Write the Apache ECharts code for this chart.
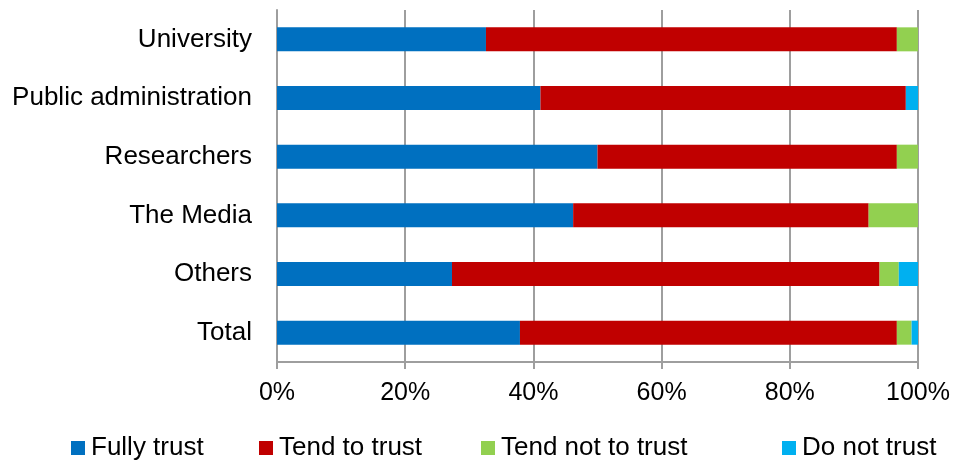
<!DOCTYPE html>
<html>
<head>
<meta charset="utf-8">
<script src="https://cdn.jsdelivr.net/npm/echarts@6/dist/echarts.min.js"></script>
<style>
  html, body { margin: 0; padding: 0; background: #fff; }
  #main { width: 956px; height: 461px; }
</style>
</head>
<body>
<div id="main"></div>
<script>
const categories = ['University', 'Public administration', 'Researchers', 'The Media', 'Others', 'Total'];
const fullyTrust = [32.6, 41.1, 50.0, 46.2, 27.3, 37.9];
const tendToTrust = [64.1, 57.0, 46.7, 46.1, 66.7, 58.8];
const tendNotToTrust = [3.3, 0, 3.3, 7.7, 3.0, 2.3];
const doNotTrust = [0, 1.9, 0, 0, 3.0, 1.0];
const tickLabels = ['0%', '20%', '40%', '60%', '80%', '100%'];

const seriesNames = ['Fully trust', 'Tend to trust', 'Tend not to trust', 'Do not trust'];
const seriesData = [fullyTrust, tendToTrust, tendNotToTrust, doNotTrust];
const colors = ['#0070C0', '#C00000', '#92D050', '#00B0F0'];
const legendLeft = [71, 259, 481, 782];

const gridColor = '#9e9e9e';
const font = 'Liberation Sans, Arial, sans-serif';

var chart = echarts.init(document.getElementById('main'));

var legends = [];
for (var i = 0; i < seriesNames.length; i++) {
  legends.push({
    data: [seriesNames[i]],
    left: legendLeft[i],
    top: 435,
    icon: 'rect',
    itemWidth: 14,
    itemHeight: 14,
    padding: 0,
    selectedMode: false,
    textStyle: { fontFamily: font, fontSize: 26, color: '#000', padding: [0, 0, 0, 1] }
  });
}

var series = [];
for (var j = 0; j < seriesNames.length; j++) {
  series.push({
    name: seriesNames[j],
    type: 'bar',
    stack: 'total',
    barWidth: 24,
    data: seriesData[j],
    itemStyle: { color: colors[j] }
  });
}

var option = {
  animation: false,
  backgroundColor: '#fff',
  color: colors,
  grid: { left: 277, right: 38, top: 10, bottom: 99, containLabel: false },
  legend: legends,
  xAxis: {
    type: 'value',
    min: 0,
    max: 100,
    interval: 20,
    axisLine: { show: true, lineStyle: { color: gridColor, width: 2 } },
    axisTick: { show: true, length: 7, lineStyle: { color: gridColor, width: 2 } },
    splitLine: { show: true, lineStyle: { color: gridColor, width: 2 } },
    axisLabel: {
      margin: 19,
      fontFamily: font,
      fontSize: 25,
      color: '#000',
      formatter: function (v) { return tickLabels[Math.round(v / 20)]; }
    }
  },
  yAxis: {
    type: 'category',
    inverse: true,
    data: categories,
    axisLine: { show: true, lineStyle: { color: gridColor, width: 2 } },
    axisTick: { show: false },
    axisLabel: { margin: 25, fontFamily: font, fontSize: 26, color: '#000', padding: [4, 0, 0, 0] }
  },
  series: series
};

chart.setOption(option);
</script>
</body>
</html>
